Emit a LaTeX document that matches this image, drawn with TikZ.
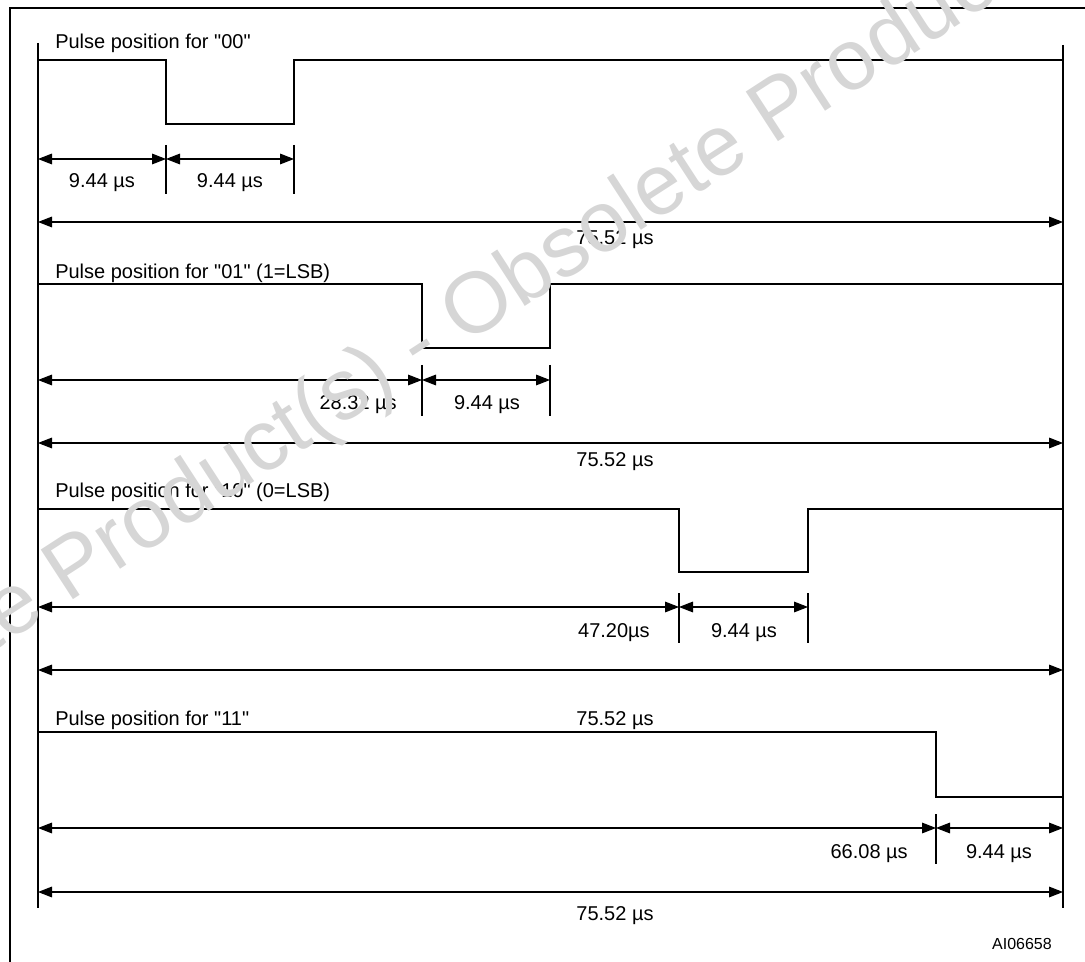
\documentclass[tikz,border=0pt]{standalone}
\usepackage{fontspec}
\setmainfont{Liberation Sans}
\usetikzlibrary{arrows.meta}
\tikzset{
  frame line/.style={line width=1.9pt},
  signal line/.style={line width=1pt},
  tick line/.style={line width=0.8pt},
  dim arrow/.style={{Triangle[length=10.5pt,width=8pt]}-{Triangle[length=10.5pt,width=8pt]},
    line width=0.8pt},
  row label/.style={anchor=base west,inner sep=0pt,font=\fontsize{15}{18}\selectfont},
  time label/.style={anchor=base,inner sep=0pt,font=\fontsize{15}{18}\selectfont},
  time label left/.style={time label,anchor=base east},
  fig id/.style={anchor=base east,inner sep=0pt,font=\fontsize{12}{14}\selectfont},
  watermark/.style={text=black!16,inner sep=0pt,rotate=33,
    font=\fontsize{64.5}{64.5}\selectfont},
}

\begin{document}
\begin{tikzpicture}[x=0.75pt,y=-0.75pt]
  \useasboundingbox (0,0) rectangle (1085,962);
  \draw[frame line] (10,980) -- (10,8) -- (1100,8);

  % start and end of the 75.52 us frame
  \coordinate (startT) at (38,43);
  \coordinate (startB) at (38,908);
  \coordinate (endT) at (1063,45);
  \coordinate (endB) at (1063,908);
  \draw[signal line] (startT) -- (startB);
  \draw[signal line] (endT) -- (endB);

  % "00"
  \node[row label] (lbl00) at (55,49) {Pulse position for \textquotedbl00\textquotedbl};
  \draw[signal line] (38,60) -| (166,124) -| (294,60) -- (1063,60);
  \draw[tick line] (166,145) -- (166,194);
  \draw[tick line] (294,145) -- (294,194);
  \coordinate (d00a) at (38,159);
  \coordinate (d00b) at (166,159);
  \coordinate (d00c) at (294,159);
  \draw[dim arrow] (d00a) -- (d00b);
  \draw[dim arrow] (d00b) -- (d00c);
  \node[time label] (t00a) at (102,188) {9.44 µs};
  \node[time label] (t00b) at (230,188) {9.44 µs};
  \coordinate (f00a) at (38,222);
  \coordinate (f00b) at (1063,222);
  \draw[dim arrow] (f00a) -- (f00b);
  \node[time label] (tot00) at (615,245) {75.52 µs};

  % "01"
  \node[row label] (lbl01) at (55,279) {Pulse position for \textquotedbl01\textquotedbl{} (1=LSB)};
  \draw[signal line] (38,284) -| (422,348) -| (550,284) -- (1063,284);
  \draw[tick line] (422,365) -- (422,416);
  \draw[tick line] (550,365) -- (550,416);
  \coordinate (d01a) at (38,380);
  \coordinate (d01b) at (422,380);
  \coordinate (d01c) at (550,380);
  \draw[dim arrow] (d01a) -- (d01b);
  \draw[dim arrow] (d01b) -- (d01c);
  \node[time label left] (t01a) at (397,410) {28.32 µs};
  \node[time label] (t01b) at (487,410) {9.44 µs};
  \coordinate (f01a) at (38,443);
  \coordinate (f01b) at (1063,443);
  \draw[dim arrow] (f01a) -- (f01b);
  \node[time label] (tot01) at (615,466) {75.52 µs};

  % "10"
  \node[row label] (lbl10) at (55,497) {Pulse position for \textquotedbl10\textquotedbl{} (0=LSB)};
  \draw[signal line] (38,509) -| (679,572) -| (808,509) -- (1063,509);
  \draw[tick line] (679,593) -- (679,643);
  \draw[tick line] (808,593) -- (808,643);
  \coordinate (d10a) at (38,607);
  \coordinate (d10b) at (679,607);
  \coordinate (d10c) at (808,607);
  \draw[dim arrow] (d10a) -- (d10b);
  \draw[dim arrow] (d10b) -- (d10c);
  \node[time label left] (t10a) at (650,637) {47.20µs};
  \node[time label] (t10b) at (744,637) {9.44 µs};
  \coordinate (f10a) at (38,670);
  \coordinate (f10b) at (1063,670);
  \draw[dim arrow] (f10a) -- (f10b);
  \node[time label] (tot10) at (615,725) {75.52 µs};

  % "11"
  \node[row label] (lbl11) at (55,725) {Pulse position for \textquotedbl11\textquotedbl};
  \draw[signal line] (38,732) -| (936,797) -- (1063,797);
  \draw[tick line] (936,814) -- (936,864);
  \coordinate (d11a) at (38,828);
  \coordinate (d11b) at (936,828);
  \coordinate (d11c) at (1063,828);
  \draw[dim arrow] (d11a) -- (d11b);
  \draw[dim arrow] (d11b) -- (d11c);
  \node[time label left] (t11a) at (908,858) {66.08 µs};
  \node[time label] (t11b) at (999,858) {9.44 µs};
  \coordinate (f11a) at (38,892);
  \coordinate (f11b) at (1063,892);
  \draw[dim arrow] (f11a) -- (f11b);
  \node[time label] (tot11) at (615,920) {75.52 µs};

  \node[fig id] (figid) at (1052,949) {AI06658};

  \node[watermark] (wm) at (420,348) {Obsolete Product(s) - Obsolete Product(s)};
\end{tikzpicture}
\end{document}
